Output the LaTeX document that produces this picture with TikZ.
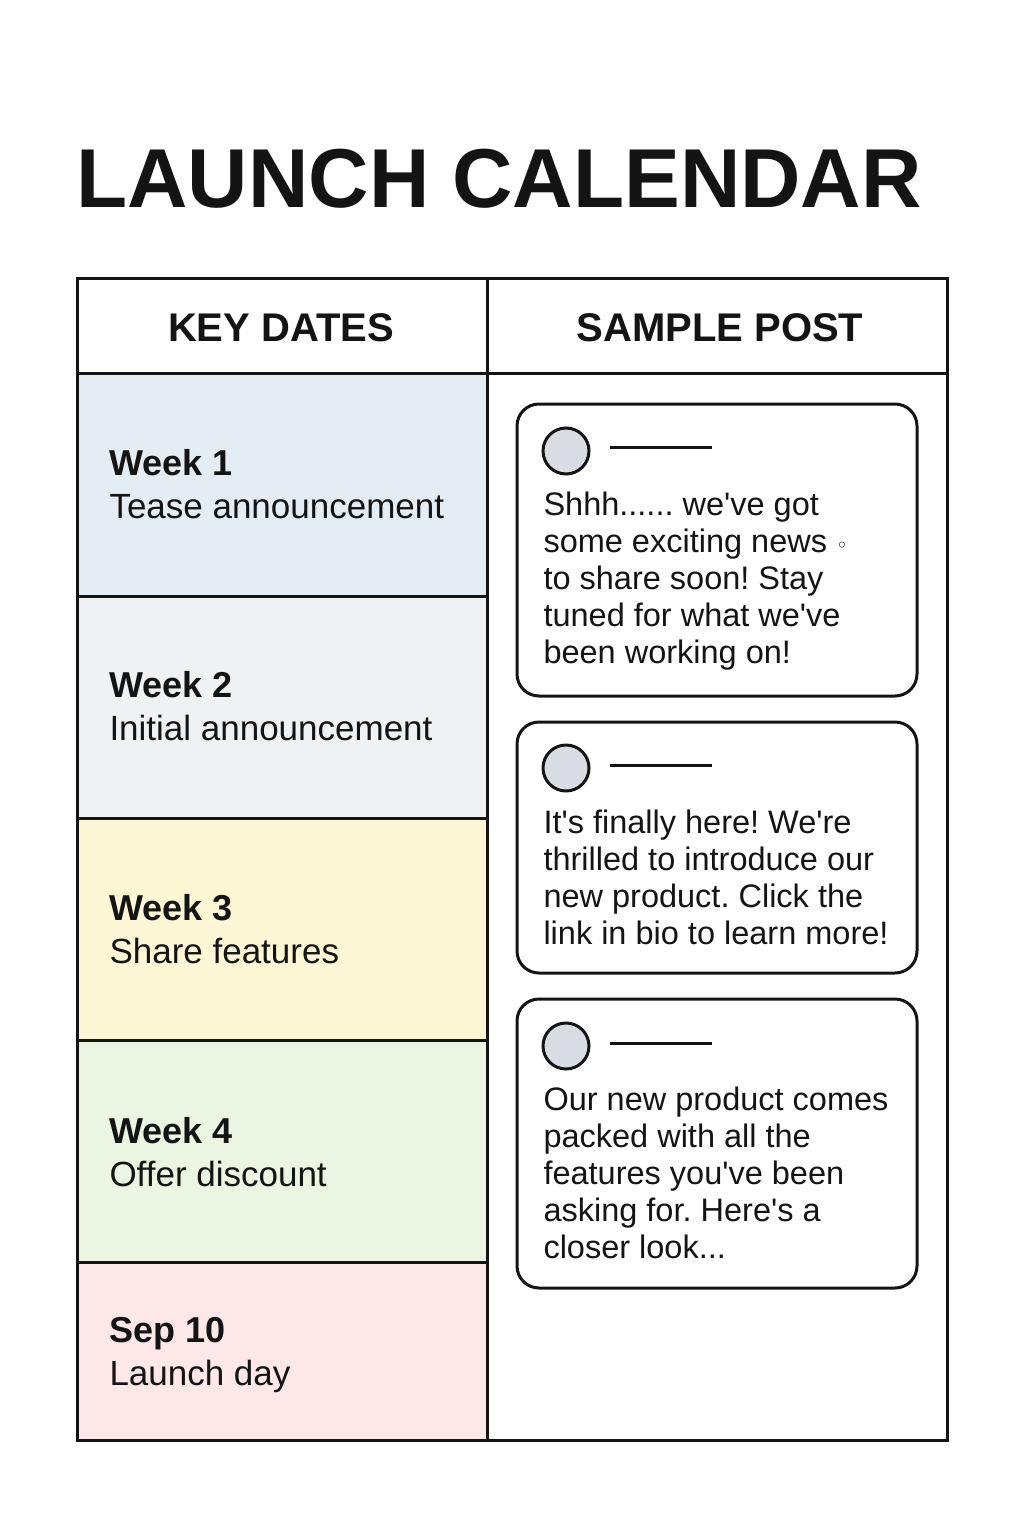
\documentclass[tikz,border=0pt]{standalone}
\usepackage{fontspec}
\setmainfont{Liberation Sans}
\newfontfamily\dotfont{DejaVu Sans}
\usetikzlibrary{calc}
\frenchspacing

\definecolor{rowblue}{HTML}{E5EDF4}
\definecolor{rowgray}{HTML}{EFF1F3}
\definecolor{rowyellow}{HTML}{FEF7D5}
\definecolor{rowgreen}{HTML}{EBF5E1}
\definecolor{rowpink}{HTML}{FDE7E7}
\definecolor{avatargray}{HTML}{D9DCE2}
\definecolor{ink}{HTML}{141414}
\newcommand{\ap}{\textquotesingle}

\begin{document}
\begin{tikzpicture}[x=1pt, y=-1pt, line width=3pt,
    title/.style = {anchor=base west, inner sep=0, font=\fontsize{83.6}{90}\selectfont\bfseries, text=ink},
    colhead/.style = {anchor=base, inner sep=0, font=\fontsize{40}{44}\selectfont\bfseries, text=ink},
    datehead/.style = {anchor=base west, inner sep=0, font=\fontsize{36}{40}\selectfont\bfseries, text=ink},
    datesub/.style = {anchor=base west, inner sep=0, font=\fontsize{35}{40}\selectfont, text=ink},
    post/.style = {draw=ink, fill=white, rounded corners=22pt, minimum width=400pt, inner sep=0},
    avatar/.style = {draw=ink, fill=avatargray, circle, minimum size=46pt, inner sep=0},
    posttext/.style = {anchor=north west, inner sep=0, align=left, font=\fontsize{32.5}{37}\selectfont, text=ink}]
\useasboundingbox (0,0) rectangle (1024,1536);
\fill[white] (0,0) rectangle (1024,1536);

% title
\node[title] (title) at (75,207) {LAUNCH CALENDAR};

% row fills
\fill[rowblue]   (77,373)  rectangle (487,596);
\fill[rowgray]   (77,596)  rectangle (487,818);
\fill[rowyellow] (77,818)  rectangle (487,1040);
\fill[rowgreen]  (77,1040) rectangle (487,1262);
\fill[rowpink]   (77,1262) rectangle (487,1440);

% table lines
\draw[ink] (77,278) rectangle (947,1440);
\draw[ink] (487,278) -- (487,1440);
\draw[ink] (77,373) -- (947,373);
\draw[ink] (77,596) -- (487,596);
\draw[ink] (77,818) -- (487,818);
\draw[ink] (77,1040) -- (487,1040);
\draw[ink] (77,1262) -- (487,1262);

% headers
\node[colhead] (keydates) at (281,341) {KEY DATES};
\node[colhead] (sample) at (720,341) {SAMPLE POST};

% key dates
\node[datehead] (w1) at (108,475) {Week 1};
\node[datesub] (w1s) at (108,518) {Tease announcement};
\node[datehead] (w2) at (108,697) {Week 2};
\node[datesub] (w2s) at (108,740) {Initial announcement};
\node[datehead] (w3) at (108,920) {Week 3};
\node[datesub] (w3s) at (108,963) {Share features};
\node[datehead] (w4) at (108,1143) {Week 4};
\node[datesub] (w4s) at (108,1186) {Offer discount};
\node[datehead] (sep) at (108,1342) {Sep 10};
\node[datesub] (seps) at (108,1385) {Launch day};

% sample posts
\node[post, minimum height=292pt] (p1) at (717,550) {};
\node[avatar] (a1) at (566,451) {};
\draw[ink] ($(a1.east)+(19,-4)$) -- ++(102,0);
\node[posttext] (t1) at (542,490) {Shhh...... we\ap ve got\\some exciting news {\dotfont\fontsize{20}{20}\selectfont ◦}\\to share soon! Stay\\tuned for what we\ap ve\\been working on!};

\node[post, minimum height=251pt] (p2) at (717,847.5) {};
\node[avatar] (a2) at (566,768) {};
\draw[ink] ($(a2.east)+(19,-3)$) -- ++(102,0);
\node[posttext] (t2) at (542,808) {It\ap s finally here! We\ap re\\thrilled to introduce our\\new product. Click the\\link in bio to learn more!};

\node[post, minimum height=289pt] (p3) at (717,1143.5) {};
\node[avatar] (a3) at (566,1046) {};
\draw[ink] ($(a3.east)+(19,-3)$) -- ++(102,0);
\node[posttext] (t3) at (542,1085) {Our new product comes\\packed with all the\\features you\ap ve been\\asking for. Here\ap s a\\closer look...};
\end{tikzpicture}
\end{document}
